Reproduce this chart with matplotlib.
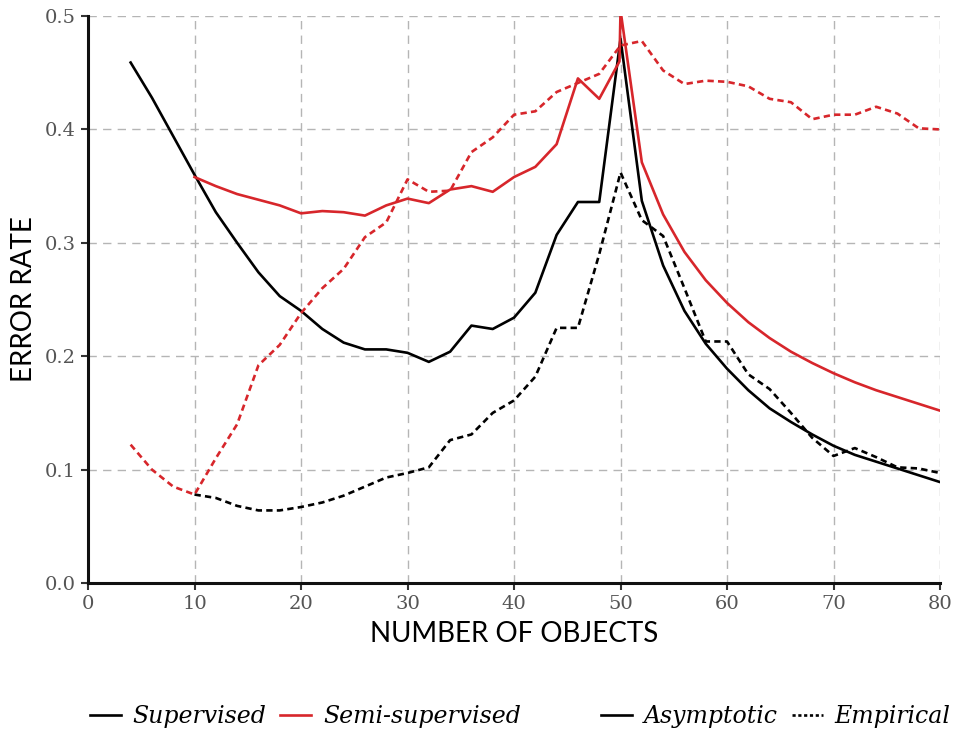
import matplotlib.pyplot as plt
from matplotlib.lines import Line2D

# データ
x_sup = [4, 6, 8, 10, 12, 14, 16, 18, 20, 22, 24, 26, 28, 30, 32, 34, 36, 38, 40,
         42, 44, 46, 48, 50, 52, 54, 56, 58, 60, 62, 64, 66, 68, 70, 72, 74, 76, 78, 80]
sup_asym = [0.459, 0.428, 0.394, 0.360, 0.327, 0.300, 0.274, 0.253, 0.240, 0.224,
            0.212, 0.206, 0.206, 0.203, 0.195, 0.204, 0.227, 0.224, 0.234, 0.256,
            0.307, 0.336, 0.336, 0.480, 0.337, 0.280, 0.240, 0.211, 0.189, 0.170,
            0.154, 0.142, 0.131, 0.121, 0.113, 0.107, 0.101, 0.095, 0.089]

x_semi = [10, 12, 14, 16, 18, 20, 22, 24, 26, 28, 30, 32, 34, 36, 38, 40, 42, 44, 46,
          48, 49.9, 50, 52, 54, 56, 58, 60, 62, 64, 66, 68, 70, 72, 74, 76, 78, 80]
semi_asym = [0.358, 0.350, 0.343, 0.338, 0.333, 0.326, 0.328, 0.327, 0.324, 0.333,
             0.339, 0.335, 0.347, 0.350, 0.345, 0.358, 0.367, 0.387, 0.445, 0.427,
             0.460, 0.505, 0.371, 0.325, 0.292, 0.267, 0.247, 0.230, 0.216, 0.204,
             0.194, 0.185, 0.177, 0.170, 0.164, 0.158, 0.152]

x_sup_emp = [10, 12, 14, 16, 18, 20, 22, 24, 26, 28, 30, 32, 34, 36, 38, 40, 42, 44,
             46, 48, 50, 52, 54, 56, 58, 60, 62, 64, 66, 68, 70, 72, 74, 76, 78, 80]
sup_emp = [0.078, 0.075, 0.068, 0.064, 0.064, 0.067, 0.071, 0.077, 0.085, 0.093,
           0.097, 0.102, 0.126, 0.131, 0.150, 0.161, 0.182, 0.225, 0.225, 0.290,
           0.362, 0.320, 0.306, 0.260, 0.213, 0.213, 0.184, 0.171, 0.150, 0.128,
           0.112, 0.119, 0.111, 0.102, 0.101, 0.097]

x_semi_emp = x_sup
semi_emp = [0.122, 0.100, 0.085, 0.078, 0.110, 0.140, 0.192, 0.210, 0.238, 0.260,
            0.277, 0.305, 0.318, 0.356, 0.345, 0.346, 0.380, 0.393, 0.413, 0.416,
            0.433, 0.441, 0.449, 0.474, 0.478, 0.452, 0.440, 0.443, 0.442, 0.438,
            0.427, 0.424, 0.409, 0.413, 0.413, 0.420, 0.414, 0.401, 0.400]

RED = "#d7262b"
DASH = (0, (2.4, 1.6))
LW = 1.9
serif = "DejaVu Serif"
sans = "Lato"

fig = plt.figure(figsize=(9.6, 7.36), dpi=100)
ax = fig.add_axes([0.0917, 0.2079, 0.8875, 0.7703])

ax.plot(x_sup, sup_asym, color="black", lw=LW, zorder=3)
ax.plot(x_semi, semi_asym, color=RED, lw=LW, zorder=3)
ax.plot(x_sup_emp, sup_emp, color="black", lw=LW, ls=DASH, zorder=3)
ax.plot(x_semi_emp, semi_emp, color=RED, lw=LW, ls=DASH, zorder=4)

ax.set_xlim(0, 80)
ax.set_ylim(0, 0.5)
ax.set_xticks(range(0, 81, 10))
ax.set_yticks([0.0, 0.1, 0.2, 0.3, 0.4, 0.5])
ax.set_yticklabels(["0.0", "0.1", "0.2", "0.3", "0.4", "0.5"])

ax.grid(True, color="#b5b5b5", ls=(0, (6, 4.5)), lw=1.0, zorder=0)
for s in ["top", "right"]:
    ax.spines[s].set_visible(False)
for s in ["left", "bottom"]:
    ax.spines[s].set_linewidth(2.2)
    ax.spines[s].set_color("#111111")
ax.tick_params(direction="out", length=5, width=1.5, color="#333333",
               labelcolor="#555555", labelsize=14)
for lab in ax.get_xticklabels() + ax.get_yticklabels():
    lab.set_family(serif)

ax.set_xlabel("NUMBER OF OBJECTS", fontsize=20, family=sans, labelpad=6)
ax.set_ylabel("ERROR RATE", fontsize=20, family=sans, labelpad=6)

# 凡例（2つ）
leg_font = {"family": serif, "style": "italic", "size": 17}
h1 = [Line2D([], [], color="black", lw=LW), Line2D([], [], color=RED, lw=LW)]
fig.legend(h1, ["Supervised", "Semi-supervised"], loc="center",
           bbox_to_anchor=(0.318, 0.026), ncol=2, frameon=False, prop=leg_font,
           handlelength=1.3, handletextpad=0.5, columnspacing=0.6)
h2 = [Line2D([], [], color="black", lw=LW), Line2D([], [], color="black", lw=LW, ls=(0, (1.2, 1.0)))]
fig.legend(h2, ["Asymptotic", "Empirical"], loc="center",
           bbox_to_anchor=(0.808, 0.026), ncol=2, frameon=False, prop=leg_font,
           handlelength=1.3, handletextpad=0.5, columnspacing=0.6)

plt.savefig("out.png", dpi=100)
